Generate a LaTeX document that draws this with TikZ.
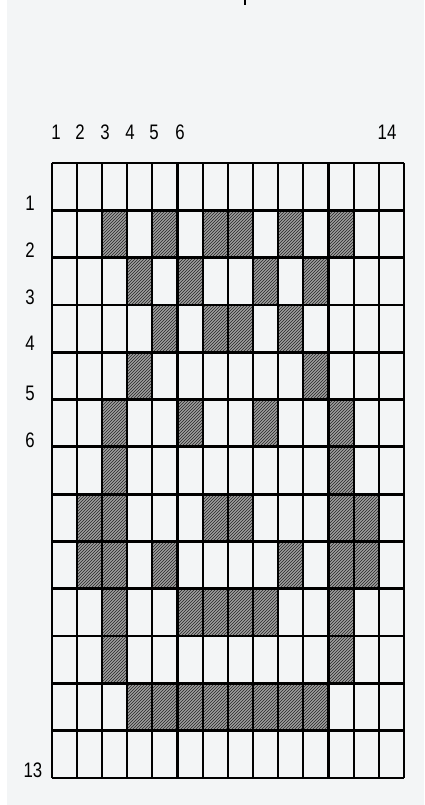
\documentclass[tikz,border=0pt]{standalone}
\usepackage{fontspec}
\setmainfont{Liberation Sans}[FakeStretch=0.8]
\usetikzlibrary{patterns}
\definecolor{paper}{HTML}{F3F5F6}
\begin{document}
\begin{tikzpicture}[x=1pt,y=-1pt,
  lbl/.style={font=\fontsize{21}{21}\selectfont, inner sep=0pt, anchor=center},
  gridline/.style={line width=2.2pt, black},
  hline/.style={line width=2.8pt, black}]
\useasboundingbox (0,0) rectangle (424,805);
\fill[white] (0,0) rectangle (424,805);
\fill[paper] (7,0) rectangle (424,805);
\fill[black] (243.5,0) rectangle (246,5);
% shaded cells
\def\cw{25.16}
\def\rh{47.3}
\foreach \r/\cols in {2/{3,5,7,8,10,12},3/{4,6,9,11},4/{5,7,8,10},5/{4,11},6/{3,6,9,12},7/{3,12},8/{2,3,7,8,12,13},9/{2,3,5,10,12,13},10/{3,6,7,8,9,12},11/{3,12},12/{4,5,6,7,8,9,10,11}}{
  \foreach \c in \cols {
    \fill[black!38] ({51.7+\cw*(\c-1)},{163+\rh*(\r-1)}) rectangle ({51.7+\cw*\c},{163+\rh*\r});
    \fill[pattern=north east lines, pattern color=black!85] ({51.7+\cw*(\c-1)},{163+\rh*(\r-1)}) rectangle ({51.7+\cw*\c},{163+\rh*\r});
  }
}
% grid lines
\foreach \i in {0,...,14} \draw[gridline] ({51.7+\cw*\i},163) -- ({51.7+\cw*\i},778);
\foreach \j in {0,...,13} \draw[hline] (51.7,{163+\rh*\j}) -- (404,{163+\rh*\j});
% column labels
\node[lbl] (c1) at (56,132) {1};
\node[lbl] (c2) at (80,132) {2};
\node[lbl] (c3) at (105,132) {3};
\node[lbl] (c4) at (130,132) {4};
\node[lbl] (c5) at (154,132) {5};
\node[lbl] (c6) at (180,132) {6};
\node[lbl] (c14) at (387,132) {14};
% row labels
\node[lbl] (r1) at (30,203) {1};
\node[lbl] (r2) at (30,250) {2};
\node[lbl] (r3) at (30,297) {3};
\node[lbl] (r4) at (30,343) {4};
\node[lbl] (r5) at (30,393) {5};
\node[lbl] (r6) at (30,440) {6};
\node[lbl] (r13) at (33,770) {13};
\end{tikzpicture}
\end{document}
